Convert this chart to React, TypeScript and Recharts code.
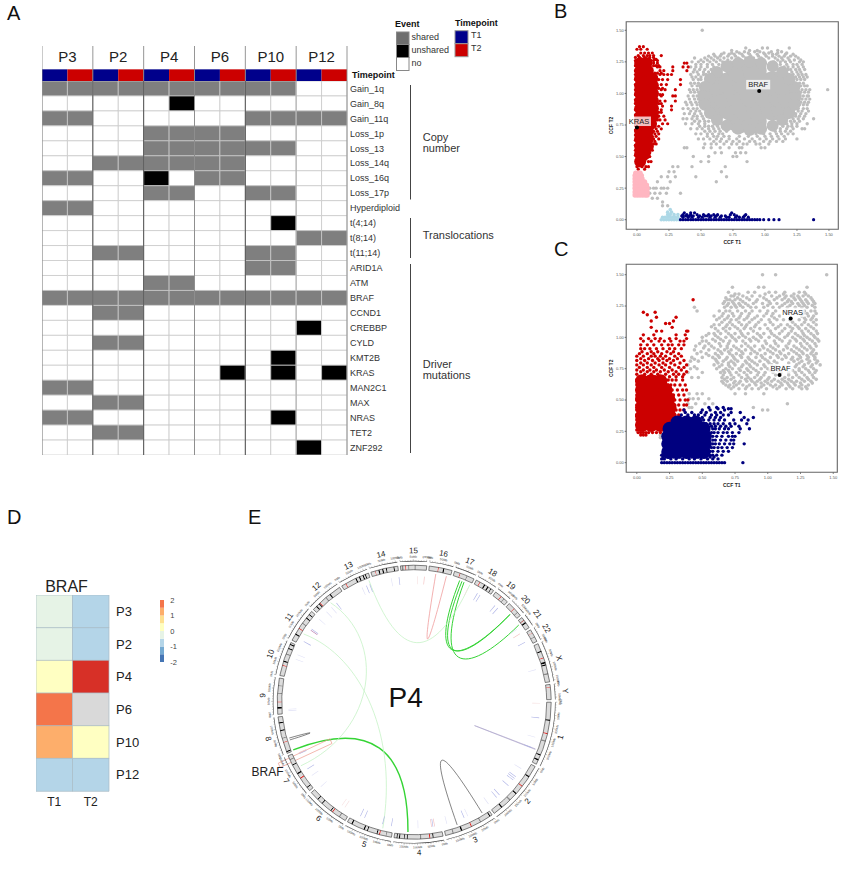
import React from 'react';
import {
  BarChart, Bar, Cell, XAxis, YAxis, ReferenceLine, ReferenceArea,
  ScatterChart, Scatter, PieChart, Pie,
} from 'recharts';

const FONT = '"Liberation Sans", Arial, sans-serif';

// ---------- panel A ----------
const patients = ['P3', 'P2', 'P4', 'P6', 'P10', 'P12'];
const eventRows = [
  'Gain_1q', 'Gain_8q', 'Gain_11q', 'Loss_1p', 'Loss_13', 'Loss_14q', 'Loss_16q', 'Loss_17p', 'Hyperdiploid',
  't(4;14)', 't(8;14)', 't(11;14)', 'ARID1A', 'ATM', 'BRAF', 'CCND1', 'CREBBP', 'CYLD', 'KMT2B', 'KRAS',
  'MAN2C1', 'MAX', 'NRAS', 'TET2', 'ZNF292',
];
// s = shared, u = unshared, n = no; two letters per patient (T1, T2)
const eventStates = [
  'ssssssssssnn', 'nnnnnunnnnnn', 'ssnnnnnnssss', 'nnnnssssnnnn', 'nnnnssssssnn', 'nnssssssnnnn', 'ssnnunssnnnn',
  'nnnnssnnssnn', 'ssnnnnnnnnnn', 'nnnnnnnnnunn', 'nnnnnnnnnnss', 'nnssnnnnssnn', 'nnnnnnnnssnn', 'nnnnssnnnnnn',
  'ssssssssssss', 'nnssnnnnnnnn', 'nnnnnnnnnnun', 'nnssnnnnnnnn', 'nnnnnnnnnunn', 'nnnnnnnununu', 'ssnnnnnnnnnn',
  'nnssnnnnnnnn', 'ssnnnnnnnunn', 'nnssnnnnnnnn', 'nnnnnnnnnnun',
];
const eventFill: any = { s: '#7f7f7f', u: '#000000', n: '#ffffff' };
const columns = [0, 1, 2, 3, 4, 5, 6, 7, 8, 9, 10, 11];
const patientEdges = [0, 2, 4, 6, 8, 10, 12];
const edgeColors = ['#777', '#444', '#444', '#888', '#444', '#aaa', '#888'];
const patientCenters = [1, 3, 5, 7, 9, 11];

const unitRow = (name: string) => {
  const row: any = { name };
  columns.forEach((c) => { row['c' + c] = 1; });
  return row;
};
const eventData = eventRows.map(unitRow);
const stripData = ['h1', 'h2', 'Timepoint'].map(unitRow);

function EventGrid() {
  return (
    <BarChart width={365} height={374} data={eventData} layout="vertical" barCategoryGap={0} margin={{ top: 0, right: 0, bottom: 0, left: 0 }}>
      <XAxis type="number" domain={[0, 12]} hide />
      <YAxis type="category" dataKey="name" orientation="right" width={60} interval={0} axisLine={false} tickLine={false} tickSize={0} tickMargin={3}
        tick={{ fontSize: 9, fill: '#333', fontFamily: FONT }} />
      {columns.map((c) => (
        <Bar key={c} dataKey={'c' + c} stackId="a" stroke="#c9c9c9" strokeWidth={0.8} isAnimationActive={false}>
          {eventStates.map((s, i) => <Cell key={i} fill={eventFill[s[c]]} />)}
        </Bar>
      ))}
      {patientEdges.map((e, i) => <ReferenceLine key={e} x={e} stroke={edgeColors[i]} strokeWidth={0.9} />)}
    </BarChart>
  );
}

function TimepointStrip() {
  return (
    <BarChart width={365} height={36} data={stripData} layout="vertical" barCategoryGap={0} margin={{ top: 0, right: 0, bottom: 0, left: 0 }}>
      <XAxis type="number" domain={[0, 12]} orientation="top" height={1} ticks={patientCenters} interval={0} axisLine={false} tickLine={false}
        tick={(p: any) => (
          <text x={p.x} y={16.5} textAnchor="middle" fontSize={15} fill="#222" fontFamily={FONT}>{patients[(p.payload.value - 1) / 2]}</text>
        )} />
      <YAxis type="category" dataKey="name" orientation="right" width={60} interval={0} axisLine={false} tickLine={false} tickSize={0}
        tick={(p: any) => (p.payload.value === 'Timepoint'
          ? <text x={p.x + 3} y={p.y + 3} fontSize={9} fontWeight="bold" fill="#111" fontFamily={FONT}>Timepoint</text>
          : <g />)} />
      {columns.map((c) => (
        <Bar key={c} dataKey={'c' + c} stackId="a" stroke="none" isAnimationActive={false}>
          <Cell fill="none" />
          <Cell fill="none" />
          <Cell fill={c % 2 === 0 ? '#00008b' : '#cc0000'} />
        </Bar>
      ))}
      {patientEdges.map((e) => <ReferenceLine key={e} x={e} stroke="#8a8a8a" strokeWidth={0.9} />)}
    </BarChart>
  );
}

// ---------- panels B and C ----------
const expand = (rows: any[]) => rows.flatMap(([y, xs]: any) => xs.map((x: number) => ({ x, y })));
const ccfTicks = [0, 0.25, 0.5, 0.75, 1, 1.25, 1.5];
const GRAY = '#bdbdbd';
const RED = '#cc0000';
const PINK = '#ffb6c1';
const NAVY = '#00007f';
const PALE_BLUE = '#add8e6';

// The solid middle of a cloud has thousands of overlapping points; it is drawn here with wider markers
const grayCoreB = expand([
  [0.78, [0.8, 0.92]],
  [0.88, [0.62, 0.73, 0.84, 0.95, 1.06, 1.14]],
  [0.98, [0.57, 0.68, 0.79, 0.9, 1.01, 1.12, 1.19]],
  [1.08, [0.62, 0.73, 0.84, 0.95, 1.06, 1.14]],
  [1.18, [0.8, 0.92]],
]);
const grayRimB = [
  { x: 1.24, y: 0.98 }, { x: 1.23, y: 1.05 }, { x: 1.19, y: 1.115 }, { x: 1.135, y: 1.17 }, { x: 1.06, y: 1.215 }, { x: 0.97, y: 1.24 },
  { x: 0.88, y: 1.25 }, { x: 0.79, y: 1.24 }, { x: 0.7, y: 1.215 }, { x: 0.625, y: 1.17 }, { x: 0.57, y: 1.115 }, { x: 0.53, y: 1.05 },
  { x: 0.52, y: 0.98 }, { x: 0.53, y: 0.91 }, { x: 0.57, y: 0.845 }, { x: 0.625, y: 0.79 }, { x: 0.7, y: 0.745 }, { x: 0.79, y: 0.72 },
  { x: 0.88, y: 0.71 }, { x: 0.97, y: 0.72 }, { x: 1.06, y: 0.745 }, { x: 1.135, y: 0.79 }, { x: 1.19, y: 0.845 }, { x: 1.23, y: 0.91 },
];
const grayScatterB = expand([
  [1.5, [0.51]],
  [1.36, [0.85, 0.98, 1.02, 1.19]],
  [1.33, [0.78, 0.84, 0.92, 0.96, 1.05, 1.13]],
  [1.31, [0.6, 0.66, 0.72, 0.76, 0.82, 0.88, 0.94, 1.0, 1.06, 1.09, 1.16, 1.22]],
  [1.28, [0.45, 0.53, 0.58, 0.63, 0.68, 0.74, 0.79, 0.85, 0.91, 0.97, 1.03, 1.08, 1.13, 1.18, 1.26]],
  [1.25, [0.43, 0.48, 0.52, 0.57, 0.62, 0.67, 0.73, 1.07, 1.12, 1.16, 1.2, 1.27, 1.3]],
  [1.21, [0.42, 0.46, 0.5, 0.55, 0.6, 1.15, 1.18, 1.22, 1.26, 1.3]],
  [1.17, [0.44, 0.47, 0.52, 0.56, 1.21, 1.25, 1.28]],
  [1.13, [0.43, 0.46, 0.5, 1.24, 1.27, 1.3, 1.33]],
  [1.08, [0.42, 0.45, 0.48, 1.27, 1.3]],
  [1.03, [0.41, 0.44, 0.47, 1.29, 1.32, 1.35, 1.49]],
  [0.98, [0.4, 0.44, 0.47, 1.3, 1.33, 1.34]],
  [0.93, [0.38, 0.42, 0.46, 0.49, 1.28, 1.31, 1.34]],
  [0.88, [0.36, 0.4, 0.44, 0.47, 1.26, 1.3, 1.33]],
  [0.84, [0.37, 0.41, 0.45, 0.5, 1.24, 1.28, 1.32]],
  [0.8, [0.36, 0.39, 0.43, 0.47, 0.52, 1.22, 1.26, 1.3, 1.38]],
  [0.76, [0.38, 0.43, 0.48, 0.53, 1.17, 1.21, 1.25, 1.33]],
  [0.72, [0.42, 0.47, 0.51, 0.56, 0.6, 0.64, 1.06, 1.12, 1.17, 1.22, 1.29, 1.31]],
  [0.68, [0.46, 0.5, 0.55, 0.59, 0.64, 0.67, 0.93, 0.99, 1.04, 1.09, 1.13, 1.18, 1.22]],
  [0.64, [0.48, 0.52, 0.57, 0.62, 0.66, 0.72, 0.78, 0.84, 0.9, 0.96, 1.01, 1.06, 1.11, 1.16, 1.25]],
  [0.6, [0.53, 0.58, 0.62, 0.68, 0.74, 0.78, 0.83, 0.86, 0.93, 0.96, 1.03]],
  [0.57, [0.37, 0.39, 0.52, 0.58, 0.65, 0.72, 0.8, 0.82, 0.97, 1.0]],
  [0.53, [0.61, 0.66, 0.77, 0.81, 0.85]],
  [0.5, [0.44, 0.56, 0.75, 0.78]],
  [0.46, [0.5, 0.56, 0.86]],
  [0.42, [0.28, 0.32, 0.43, 0.69]],
  [0.38, [0.25, 0.29, 0.66]],
  [0.34, [0.19, 0.24, 0.3, 0.46, 0.7]],
  [0.3, [0.16, 0.26, 0.62]],
  [0.25, [0.1, 0.13, 0.15, 0.19, 0.21, 0.24]],
  [0.21, [0.1, 0.14, 0.18, 0.23, 0.34]],
  [0.17, [0.12, 0.16]],
  [0.14, [0.2]],
  [0.11, [0.2, 0.24]],
]);
const grayFringeB = expand([
  [1.34, [0.74, 0.88, 0.94, 1.1]],
  [1.32, [0.68, 0.74, 0.8, 0.87, 0.99, 1.03, 1.1, 1.17]],
  [1.295, [0.56, 0.61, 0.65, 0.71, 0.77, 0.83, 0.89, 0.95, 1.01, 1.06, 1.11, 1.15, 1.2, 1.24]],
  [1.265, [0.5, 0.55, 0.6, 0.65, 0.71, 1.1, 1.14, 1.19, 1.23, 1.28]],
  [1.23, [0.46, 0.5, 0.55, 0.59, 0.64, 1.12, 1.17, 1.22, 1.25, 1.29]],
  [1.19, [0.45, 0.49, 0.53, 0.58, 1.18, 1.2, 1.24, 1.27, 1.31]],
  [1.15, [0.42, 0.48, 0.52, 0.54, 1.22, 1.26, 1.29, 1.32]],
  [1.11, [0.44, 0.48, 0.5, 1.25, 1.28, 1.31]],
  [1.06, [0.43, 0.47, 0.49, 1.28, 1.31, 1.33]],
  [1.01, [0.42, 0.45, 0.48, 1.28, 1.31, 1.34]],
  [0.955, [0.41, 0.45, 0.48, 1.29, 1.32, 1.35]],
  [0.91, [0.39, 0.43, 0.47, 1.27, 1.3, 1.33]],
  [0.86, [0.42, 0.46, 0.49, 1.26, 1.29, 1.34]],
  [0.82, [0.44, 0.47, 0.51, 1.24, 1.27, 1.31]],
  [0.78, [0.45, 0.49, 0.53, 0.56, 1.2, 1.23, 1.27]],
  [0.74, [0.49, 0.53, 0.56, 0.59, 0.63, 1.14, 1.18, 1.21, 1.25]],
  [0.7, [0.53, 0.57, 0.61, 0.65, 0.7, 0.76, 1.08, 1.12, 1.16, 1.2]],
  [0.66, [0.55, 0.6, 0.63, 0.68, 0.72, 0.8, 0.87, 0.94, 1.0, 1.05, 1.1, 1.15]],
  [0.62, [0.6, 0.65, 0.7, 0.75, 0.8, 0.88, 0.92, 0.99, 1.04, 1.09, 1.14]],
]);
const redCoreB = expand([
  [0.46, [0.025]], [0.52, [0.025, 0.06]], [0.58, [0.025, 0.085]], [0.64, [0.025, 0.085]], [0.7, [0.025, 0.085]],
  [0.76, [0.025, 0.085, 0.11]], [0.82, [0.025, 0.085, 0.125]], [0.88, [0.025, 0.085, 0.125]], [0.94, [0.025, 0.085, 0.125]],
  [1.0, [0.025, 0.085, 0.125]], [1.06, [0.025, 0.085, 0.125]], [1.12, [0.025, 0.085, 0.12]], [1.18, [0.025, 0.085]], [1.24, [0.025, 0.075]],
]);
const redScatterB = expand([
  [1.37, [0.02, 0.05]], [1.35, [0.0, 0.03, 0.08]], [1.32, [0.03, 0.06, 0.09, 0.12]], [1.3, [0.01, 0.05, 0.08, 0.1, 0.13, 0.19]],
  [1.285, [-0.012, 0.02, 0.06, 0.1, 0.13]], [1.27, [0.1, 0.14, 0.15]], [1.26, [-0.012, 0.11, 0.13, 0.16]], [1.24, [0.13, 0.16, 0.37, 0.39]],
  [1.22, [-0.012, 0.13, 0.15, 0.17]], [1.21, [0.16, 0.18, 0.28, 0.36, 0.4]], [1.18, [-0.012, 0.18, 0.21, 0.28, 0.39]], [1.16, [0.14, 0.16, 0.19]],
  [1.15, [-0.012, 0.18, 0.21, 0.24, 0.27]], [1.11, [-0.012, 0.17, 0.2, 0.24, 0.34]], [1.07, [-0.012, 0.19, 0.23, 0.34]], [1.04, [0.17, 0.2]],
  [1.03, [-0.012, 0.19, 0.22, 0.3]], [0.99, [-0.012, 0.18, 0.2]], [0.98, [0.19, 0.28, 0.3]], [0.95, [-0.012]], [0.94, [0.18, 0.22, 0.3]],
  [0.92, [-0.012, 0.17, 0.19]], [0.9, [0.2, 0.27]], [0.87, [-0.012, 0.19, 0.27]], [0.85, [0.17, 0.19]], [0.83, [-0.012]], [0.82, [0.17, 0.21]],
  [0.79, [-0.012, 0.16, 0.18, 0.22]], [0.76, [0.2, 0.24]], [0.75, [-0.012]], [0.74, [0.14, 0.17]], [0.72, [0.15, 0.19]], [0.71, [-0.012]],
  [0.7, [0.13, 0.16]], [0.68, [0.14, 0.17]], [0.67, [-0.012]], [0.66, [0.12, 0.15]], [0.64, [0.13, 0.17]], [0.63, [-0.012]], [0.62, [0.11, 0.14]],
  [0.6, [0.1, 0.13, 0.15]], [0.59, [-0.012]], [0.57, [0.09, 0.11]], [0.55, [-0.012, 0.1, 0.12]], [0.53, [0.08, 0.1]], [0.51, [-0.012]], [0.5, [0.07, 0.1]],
  [0.48, [0.05, 0.07]], [0.46, [0.05, 0.09, 0.11]], [0.42, [0.0, 0.04, 0.07, 0.09]], [0.4, [0.01, 0.06]],
]);
const pinkB = expand([
  [0.195, [-0.015, 0.005, 0.025, 0.045, 0.065, 0.08]], [0.22, [-0.015, 0.005, 0.025, 0.045, 0.065, 0.08]], [0.25, [-0.015, 0.005, 0.025, 0.045, 0.065, 0.08]],
  [0.275, [-0.015, 0.005, 0.025, 0.045, 0.06, 0.075]], [0.3, [-0.015, 0.005, 0.025, 0.045, 0.06]], [0.325, [-0.015, 0.005, 0.025, 0.04]],
  [0.35, [-0.015, 0.005, 0.025, 0.035]], [0.37, [-0.01, 0.01, 0.025]],
]);
const navyB = expand([
  [0, [0.34, 0.36, 0.38, 0.4, 0.42, 0.44, 0.46, 0.48, 0.5, 0.52, 0.54, 0.56, 0.58, 0.6, 0.62, 0.64, 0.66, 0.68, 0.7, 0.72, 0.74, 0.76, 0.78, 0.8, 0.82, 0.84, 0.86, 0.88, 0.9, 0.92, 0.94, 0.96, 0.99, 1.03, 1.07, 1.11, 1.38]],
  [0.02, [0.36, 0.4, 0.43, 0.48, 0.51, 0.57, 0.61, 0.65, 0.7, 0.72, 0.77, 0.8, 0.83, 0.87]],
  [0.03, [0.35, 0.38, 0.41, 0.44, 0.49, 0.53, 0.55, 0.58, 0.62, 0.66, 0.69, 0.78, 0.84]],
  [0.04, [0.36, 0.39, 0.42, 0.47, 0.52, 0.56, 0.6, 0.63, 0.73, 0.76, 0.85]],
  [0.055, [0.37, 0.42, 0.45, 0.74]],
]);
const paleBlueB = expand([
  [0, [0.19, 0.21, 0.23, 0.25, 0.27, 0.29, 0.31, 0.33]],
  [0.02, [0.2, 0.22, 0.24, 0.26, 0.28, 0.3, 0.32]],
  [0.04, [0.24, 0.26, 0.29, 0.32]],
  [0.06, [0.24, 0.27]],
  [0.08, [0.26]],
]);
const driversB = [{ x: 0.0, y: 0.73, name: 'KRAS', dx: 2 }, { x: 0.955, y: 1.02, name: 'BRAF', dx: -1 }];

const grayScatterC = expand([
  [1.5, [0.96, 1.06, 1.45]],
  [1.4, [0.73, 0.93, 0.97, 1.3]],
  [1.36, [0.7, 0.85, 0.9, 1.01, 1.06, 1.13, 1.24, 1.28]],
  [1.33, [0.72, 0.74, 0.81, 0.88, 0.94, 1.03, 1.09, 1.14, 1.18, 1.23, 1.27, 1.31]],
  [1.3, [0.69, 0.71, 0.75, 0.79, 0.86, 0.92, 0.99, 1.05, 1.11, 1.16, 1.21, 1.25, 1.29, 1.34]],
  [1.27, [0.66, 0.7, 0.74, 0.78, 0.83, 0.89, 0.96, 1.02, 1.07, 1.13, 1.19, 1.23, 1.27, 1.31, 1.36]],
  [1.24, [0.44, 0.67, 0.72, 0.76, 0.81, 0.87, 0.91, 0.97, 1.04, 1.09, 1.15, 1.21, 1.26, 1.3, 1.36]],
  [1.21, [0.46, 0.63, 0.68, 0.71, 0.77, 0.83, 0.88, 0.94, 1.0, 1.06, 1.14, 1.28, 1.33, 1.36]],
  [1.17, [0.59, 0.65, 0.7, 0.74, 0.79, 0.85, 0.92, 0.97, 1.03, 1.09, 1.26, 1.31, 1.35]],
  [1.14, [0.61, 0.67, 0.72, 0.76, 0.82, 0.88, 0.95, 1.01, 1.07, 1.12, 1.17, 1.24, 1.29, 1.33, 1.37]],
  [1.1, [0.59, 0.63, 0.69, 0.73, 0.8, 0.84, 0.91, 0.98, 1.04, 1.1, 1.15, 1.21, 1.26, 1.31, 1.37]],
  [1.07, [0.6, 0.66, 0.71, 0.77, 0.82, 0.87, 0.94, 1.0, 1.06, 1.13, 1.19, 1.24, 1.29, 1.35]],
  [1.03, [0.55, 0.59, 0.64, 0.7, 0.75, 0.8, 0.85, 0.92, 0.97, 1.03, 1.09, 1.16, 1.21, 1.27, 1.33, 1.38]],
  [1.0, [0.5, 0.62, 0.68, 0.73, 0.78, 0.83, 0.89, 0.95, 1.01, 1.07, 1.13, 1.19, 1.25, 1.3, 1.36]],
  [0.97, [0.5, 0.53, 0.6, 0.66, 0.71, 0.76, 0.81, 0.87, 0.93, 0.98, 1.05, 1.11, 1.17, 1.22, 1.28, 1.34, 1.39]],
  [0.93, [0.45, 0.52, 0.57, 0.64, 0.69, 0.74, 0.8, 0.85, 0.9, 0.96, 1.02, 1.08, 1.14, 1.2, 1.26, 1.32, 1.37]],
  [0.9, [0.44, 0.55, 0.62, 0.67, 0.72, 0.78, 0.83, 0.88, 0.94, 1.0, 1.06, 1.12, 1.18, 1.24, 1.3, 1.35]],
  [0.87, [0.46, 0.53, 0.6, 0.65, 0.71, 0.76, 0.81, 0.87, 0.92, 0.98, 1.04, 1.1, 1.16, 1.22, 1.27, 1.33, 1.37]],
  [0.84, [0.42, 0.5, 0.58, 0.63, 0.69, 0.74, 0.8, 0.85, 0.91, 0.96, 1.02, 1.08, 1.14, 1.19, 1.25, 1.31, 1.36]],
  [0.81, [0.41, 0.47, 0.61, 0.66, 0.72, 0.77, 0.83, 0.88, 0.94, 1.0, 1.05, 1.2, 1.26, 1.32, 1.38]],
  [0.78, [0.39, 0.59, 0.65, 0.7, 0.75, 0.81, 0.86, 0.92, 0.97, 1.03, 1.22, 1.28, 1.34, 1.4]],
  [0.75, [0.41, 0.46, 0.61, 0.68, 0.73, 0.78, 0.84, 0.89, 0.95, 1.0, 1.24, 1.29, 1.35]],
  [0.72, [0.39, 0.5, 0.64, 0.67, 0.71, 0.76, 0.82, 0.87, 0.93, 0.98, 1.04, 1.1, 1.16, 1.21, 1.26, 1.32, 1.36]],
  [0.68, [0.42, 0.47, 0.65, 0.69, 0.74, 0.8, 0.85, 0.9, 0.95, 1.01, 1.13, 1.19, 1.24, 1.3, 1.35]],
  [0.65, [0.65, 0.69, 0.75, 0.79, 0.84, 0.88, 0.92, 0.98, 1.03, 1.08, 1.13, 1.18, 1.22, 1.28, 1.33]],
  [0.62, [0.68, 0.71, 0.76, 0.81, 0.86, 0.91, 0.97, 1.02, 1.06, 1.11, 1.16, 1.21, 1.26, 1.31]],
  [0.59, [0.72, 0.78, 0.83, 0.88, 0.93, 0.99, 1.07, 1.14, 1.19, 1.26, 1.3]],
  [0.55, [0.4, 0.46, 0.5, 0.75, 0.83, 0.97]],
  [0.51, [0.4, 0.43, 0.47, 0.55]],
  [0.47, [0.39, 0.45, 0.52, 0.58, 1.15]],
  [0.44, [0.4, 0.42, 0.89]],
  [0.42, [0.96, 1.0]],
  [0.22, [0.18, 0.19]],
  [0.2, [0.18]],
]);
const grayExtraC = expand([
  [1.345, [0.75, 0.78, 0.98, 1.12, 1.2, 1.29]],
  [1.315, [0.68, 0.77, 0.84, 0.97, 1.07, 1.13, 1.2, 1.24, 1.33]],
  [1.285, [0.67, 0.73, 0.81, 0.91, 1.01, 1.15, 1.18, 1.26, 1.3, 1.35]],
  [1.255, [0.69, 0.75, 0.79, 0.85, 1.0, 1.11, 1.17, 1.24, 1.28, 1.34]],
  [1.19, [0.66, 0.73, 0.8, 0.86, 0.99, 1.04, 1.27, 1.3, 1.37]],
  [1.155, [0.63, 0.69, 0.78, 0.84, 0.9, 1.05, 1.28, 1.34]],
  [1.12, [0.65, 0.71, 0.78, 0.86, 0.93, 1.02, 1.19, 1.28, 1.35]],
  [1.085, [0.57, 0.68, 0.75, 0.83, 0.9, 1.08, 1.17, 1.23, 1.33]],
  [1.05, [0.62, 0.68, 0.79, 0.89, 1.02, 1.11, 1.18, 1.26, 1.31, 1.37]],
  [1.015, [0.53, 0.6, 0.72, 0.81, 0.94, 1.05, 1.15, 1.23, 1.28, 1.35]],
  [0.985, [0.58, 0.64, 0.75, 0.86, 0.91, 1.09, 1.21, 1.27, 1.32, 1.38]],
  [0.95, [0.48, 0.55, 0.63, 0.7, 0.83, 0.99, 1.06, 1.16, 1.25, 1.3, 1.36]],
  [0.915, [0.51, 0.59, 0.69, 0.76, 0.87, 0.97, 1.04, 1.15, 1.22, 1.28, 1.33]],
  [0.885, [0.49, 0.64, 0.7, 0.8, 0.9, 1.02, 1.09, 1.2, 1.26, 1.34]],
  [0.855, [0.55, 0.62, 0.73, 0.79, 0.95, 1.07, 1.13, 1.24, 1.3, 1.35]],
  [0.825, [0.44, 0.6, 0.68, 0.75, 0.86, 0.98, 1.11, 1.18, 1.23, 1.3, 1.36]],
  [0.795, [0.62, 0.7, 0.74, 0.84, 0.9, 1.01, 1.07, 1.16, 1.24, 1.31, 1.37]],
  [0.765, [0.44, 0.63, 0.71, 0.8, 0.87, 0.98, 1.06, 1.12, 1.21, 1.27, 1.33]],
  [0.735, [0.66, 0.7, 0.79, 0.85, 0.91, 1.02, 1.08, 1.19, 1.24, 1.31, 1.37]],
  [0.7, [0.66, 0.72, 0.78, 0.84, 0.92, 0.97, 1.06, 1.16, 1.22, 1.28, 1.34]],
  [0.665, [0.67, 0.72, 0.83, 0.87, 0.94, 1.0, 1.05, 1.11, 1.16, 1.26, 1.31, 1.37]],
  [0.635, [0.66, 0.74, 0.78, 0.9, 0.95, 1.0, 1.1, 1.15, 1.2, 1.25, 1.34]],
  [0.605, [0.7, 0.74, 0.84, 0.95, 1.04, 1.09, 1.17, 1.24, 1.29]],
]);
const redCoreC = expand([
  [0.3, [0.04, 0.11, 0.18, 0.23]],
  [0.37, [0.04, 0.11, 0.18, 0.25]],
  [0.44, [0.04, 0.11, 0.18, 0.25]],
  [0.51, [0.04, 0.11, 0.18, 0.24]],
  [0.58, [0.04, 0.11, 0.18, 0.22]],
  [0.65, [0.04, 0.11, 0.18]],
]);
const redScatterC = expand([
  [1.3, [0.43]], [1.2, [0.05, 0.14]], [1.18, [0.08]], [1.16, [0.15, 0.3]], [1.13, [0.11, 0.28]], [1.11, [0.22, 0.25]],
  [1.08, [0.11, 0.27]], [1.05, [0.15, 0.19, 0.38, 0.39]], [1.02, [0.05, 0.13, 0.3, 0.37]], [0.99, [0.03, 0.09, 0.14, 0.18, 0.25, 0.3, 0.38]],
  [0.97, [0.05, 0.11, 0.17, 0.21, 0.26, 0.33, 0.36]], [0.94, [0.03, 0.08, 0.13, 0.19, 0.24, 0.27, 0.32, 0.36]],
  [0.91, [0.03, 0.06, 0.1, 0.15, 0.2, 0.25, 0.29, 0.34]], [0.885, [0.04, 0.11, 0.16, 0.23, 0.28]], [0.87, [0.02, 0.08, 0.13, 0.19, 0.26, 0.32]],
  [0.85, [0.0, 0.05, 0.11, 0.14, 0.18, 0.22, 0.29, 0.34]], [0.83, [0.03, 0.09, 0.16, 0.2, 0.25, 0.31]], [0.815, [0.0, 0.06, 0.12, 0.17, 0.23, 0.28, 0.36]],
  [0.795, [0.03, 0.08, 0.14, 0.2, 0.26, 0.33]], [0.78, [0.0, 0.05, 0.11, 0.17, 0.22, 0.29, 0.38]], [0.76, [0.02, 0.08, 0.13, 0.19, 0.25, 0.32, 0.36]],
  [0.74, [0.0, 0.05, 0.1, 0.15, 0.21, 0.27, 0.34]], [0.725, [0.03, 0.08, 0.13, 0.18, 0.24, 0.3, 0.38]], [0.705, [0.0, 0.06, 0.11, 0.16, 0.22, 0.28, 0.32, 0.36]],
  [0.685, [0.02, 0.09, 0.14, 0.2, 0.25, 0.3, 0.35]], [0.66, [0.0, 0.24, 0.27, 0.3, 0.35]], [0.62, [0.0, 0.24, 0.26, 0.29, 0.33, 0.37]],
  [0.58, [0.0, 0.27, 0.31, 0.35, 0.38]], [0.54, [0.0, 0.28, 0.32, 0.36]], [0.5, [0.0, 0.29, 0.33, 0.37, 0.39]], [0.46, [0.0, 0.29, 0.32, 0.36, 0.38]],
  [0.42, [0.0, 0.3, 0.33, 0.36]], [0.38, [0.0, 0.29, 0.32]], [0.34, [0.0, 0.28, 0.31]], [0.3, [0.0, 0.28]], [0.26, [0.0, 0.02]],
  [0.24, [0.01, 0.03, 0.05, 0.07, 0.09, 0.12, 0.15, 0.18]], [0.22, [0.03, 0.05, 0.07]],
]);
const navyCoreC = expand([
  [0.085, [0.24, 0.31, 0.38, 0.45, 0.51]],
  [0.15, [0.24, 0.31, 0.38, 0.45, 0.52]],
  [0.21, [0.24, 0.31, 0.38, 0.45, 0.52]],
  [0.27, [0.25, 0.31, 0.38, 0.45, 0.51]],
  [0.32, [0.31, 0.38, 0.45]],
]);
const navyScatterC = expand([
  [0.44, [0.55, 0.61, 0.66]], [0.43, [0.62, 0.7, 0.72]], [0.42, [0.36, 0.5, 0.56, 0.67]], [0.4, [0.37, 0.42, 0.49, 0.53, 0.6, 0.64, 0.72, 0.79]],
  [0.38, [0.34, 0.39, 0.44, 0.47, 0.52, 0.57, 0.61, 0.66, 0.7]], [0.36, [0.33, 0.5, 0.56, 0.6, 0.64, 0.82, 0.89]], [0.34, [0.51, 0.55, 0.59, 0.63, 0.67, 0.74, 0.8, 0.85]],
  [0.31, [0.53, 0.56, 0.59, 0.62, 0.66, 0.71, 0.75, 0.84]], [0.29, [0.57, 0.6, 0.64, 0.68, 0.72, 0.78]], [0.27, [0.58, 0.6, 0.63, 0.67, 0.7, 0.79, 0.86]],
  [0.24, [0.57, 0.59, 0.62, 0.66, 0.69, 0.73, 0.78]], [0.21, [0.58, 0.61, 0.65, 0.7, 0.73, 0.75]], [0.18, [0.58, 0.6, 0.64, 0.68, 0.72, 0.74]],
  [0.15, [0.58, 0.6, 0.63, 0.67, 0.71, 0.74, 0.82]], [0.12, [0.57, 0.59, 0.62, 0.65, 0.69, 0.73]], [0.09, [0.56, 0.58, 0.62, 0.66, 0.7]], [0.06, [0.19, 0.56, 0.58, 0.61, 0.65]],
  [0.045, [0.2, 0.24, 0.28, 0.33, 0.38, 0.42, 0.47, 0.52, 0.56, 0.59]],
  [0.03, [0.19, 0.21, 0.26, 0.3, 0.35, 0.4, 0.44, 0.49, 0.54, 0.58, 0.62]],
  [0, [0.19, 0.21, 0.23, 0.25, 0.27, 0.29, 0.31, 0.33, 0.35, 0.37, 0.39, 0.41, 0.43, 0.45, 0.47, 0.49, 0.51, 0.53, 0.55, 0.57, 0.59, 0.61, 0.63, 0.65, 0.67, 0.81]],
]);
const driversC = [{ x: 1.175, y: 1.15, name: 'NRAS', dx: 2 }, { x: 1.09, y: 0.7, name: 'BRAF', dx: 1 }];

const dot = (r: number, fill: string) => (p: any) => <circle cx={p.cx} cy={p.cy} r={r} fill={fill} />;

const driverDot = (p: any) => {
  const name = p.name ?? p.payload?.name;
  const dx = p.dx ?? p.payload?.dx ?? 0;
  return (
    <g>
      <rect x={p.cx + dx - 12} y={p.cy - 11} width={24} height={9.5} fill="#fff" fillOpacity={0.75} />
      <text x={p.cx + dx} y={p.cy - 4} textAnchor="middle" fontSize={7.5} fill="#222" fontFamily={FONT}>{name}</text>
      <circle cx={p.cx} cy={p.cy} r={2} fill="#000" />
    </g>
  );
};

function CcfPlot({ margin, xDomain, yDomain, series, drivers }: any) {
  return (
    <ScatterChart width={250} height={240} margin={margin}>
      <XAxis type="number" dataKey="x" domain={xDomain} allowDataOverflow ticks={ccfTicks} interval={0} height={20.7} axisLine={false}
        tickSize={1.5} tickMargin={2} tickFormatter={(v: number) => v.toFixed(2)} tick={{ fontSize: 4, fill: '#555', fontFamily: FONT }}
        label={{ value: 'CCF T1', position: 'insideBottom', offset: 6, fontSize: 5, fontWeight: 'bold', fill: '#222', fontFamily: FONT }} />
      <YAxis type="number" dataKey="y" domain={yDomain} allowDataOverflow ticks={ccfTicks} interval={0} width={26.2} axisLine={false}
        tickSize={1.5} tickMargin={1} tickFormatter={(v: number) => v.toFixed(2)} tick={{ fontSize: 4, fill: '#555', fontFamily: FONT }}
        label={{ value: 'CCF T2', angle: -90, position: 'insideLeft', offset: 11, fontSize: 5, fontWeight: 'bold', fill: '#222', fontFamily: FONT, style: { textAnchor: 'middle' } }} />
      <ReferenceArea x1={xDomain[0]} x2={xDomain[1]} y1={yDomain[0]} y2={yDomain[1]} fill="none" stroke="#666" strokeWidth={1.1} ifOverflow="visible" />
      {series.map((s: any, i: number) => (
        <Scatter key={i} data={s.data} shape={dot(s.r, s.fill)} isAnimationActive={false} />
      ))}
      <Scatter data={drivers} shape={driverDot} isAnimationActive={false} />
    </ScatterChart>
  );
}

const seriesB = [
  { data: grayCoreB, r: 12, fill: GRAY }, { data: grayRimB, r: 6, fill: GRAY }, { data: grayFringeB, r: 1.7, fill: GRAY }, { data: grayScatterB, r: 1.7, fill: GRAY },
  { data: redCoreB, r: 6, fill: RED }, { data: redScatterB, r: 1.6, fill: RED },
  { data: pinkB, r: 2.6, fill: PINK },
  { data: paleBlueB, r: 1.8, fill: PALE_BLUE }, { data: navyB, r: 1.6, fill: NAVY },
];
const seriesC = [
  { data: grayScatterC, r: 1.8, fill: '#c0c0c0' }, { data: grayExtraC, r: 1.8, fill: '#c0c0c0' },
  { data: redCoreC, r: 7, fill: RED }, { data: redScatterC, r: 1.7, fill: RED },
  { data: navyCoreC, r: 7, fill: NAVY }, { data: navyScatterC, r: 1.7, fill: NAVY },
];

// ---------- panel D ----------
const brafPatients = ['P3', 'P2', 'P4', 'P6', 'P10', 'P12'];
const brafT1 = [-0.5, -0.5, 0, 1.5, 1, -1];
const brafT2 = [-1, -1, 2, null, 0, -1];
const heatValues = [-1, -0.5, 0, 1, 1.5, 2];
const heatColors = ['#b4d5e8', '#e6f3e6', '#ffffc2', '#fdae6b', '#f4754a', '#d73027'];
const heatNA = '#d9d9d9';
const legendColors = ['#4575b4', '#74a9d1', '#b4d5e8', '#e6f3e6', '#ffffbf', '#fee090', '#fdae6b', '#f4754a'];
const legendLabels = ['-2', '-1', '0', '1', '2'];
const heatFill = (v: number | null) => (v === null ? heatNA : heatColors[heatValues.indexOf(v)]);
const brafData = brafPatients.map((name) => ({ name, t1: 1, t2: 1 }));
const legendRow: any = { name: 'scale' };
legendColors.forEach((c, i) => { legendRow['s' + i] = 1; });

function BrafHeat() {
  return (
    <BarChart width={113} height={216} data={brafData} layout="vertical" barCategoryGap={0} margin={{ top: 0, right: 0, bottom: 0, left: 0 }}>
      <XAxis type="number" domain={[0, 2]} ticks={[0.5, 1.5]} interval={0} height={20} axisLine={false} tickLine={false} tickMargin={0}
        tickFormatter={(v: number) => (v < 1 ? 'T1' : 'T2')} tick={{ fontSize: 12, fill: '#222', fontFamily: FONT }} />
      <YAxis type="category" dataKey="name" orientation="right" width={40} interval={0} axisLine={false} tickLine={false} tickMargin={1}
        tick={{ fontSize: 13, fill: '#222', fontFamily: FONT }} />
      <Bar dataKey="t1" stackId="a" stroke="#a9bcc6" strokeWidth={0.7} isAnimationActive={false}>
        {brafT1.map((v, i) => <Cell key={i} fill={heatFill(v)} />)}
      </Bar>
      <Bar dataKey="t2" stackId="a" stroke="#a9bcc6" strokeWidth={0.7} isAnimationActive={false}>
        {brafT2.map((v, i) => <Cell key={i} fill={heatFill(v)} />)}
      </Bar>
    </BarChart>
  );
}

function HeatLegend() {
  return (
    <BarChart width={24} height={70} data={[legendRow]} barCategoryGap={0} margin={{ top: 4, right: 0, bottom: 4, left: 0 }}>
      <XAxis dataKey="name" hide />
      <YAxis type="number" domain={[0, 8]} ticks={[0, 2, 4, 6, 8]} interval={0} orientation="right" width={19.7} axisLine={false} tickLine={false} tickMargin={0}
        tickFormatter={(v: number) => legendLabels[v / 2]} tick={{ fontSize: 7.5, fill: '#444', fontFamily: FONT }} />
      {legendColors.map((c, i) => (
        <Bar key={i} dataKey={'s' + i} stackId="a" fill={c} stroke="none" isAnimationActive={false} />
      ))}
    </BarChart>
  );
}

// ---------- panel E ----------
const chromNames = ['1', '2', '3', '4', '5', '6', '7', '8', '9', '10', '11', '12', '13', '14', '15', '16', '17', '18', '19', '20', '21', '22', 'X', 'Y'];
const chromLengths = [249, 243, 198, 191, 181, 171, 159, 146, 141, 135, 135, 133, 115, 107, 102, 90, 81, 78, 59, 63, 48, 51, 155, 59];
// dark and centromere bands per chromosome: start Mb, end Mb, kind
const chromBands: any[] = [
  [[68, 73, 'k'], [121, 125, 'r'], [150, 156, 'g'], [208, 213, 'k'], [228, 234, 'k']],
  [[44, 49, 'k'], [90, 94, 'r'], [126, 131, 'k'], [160, 166, 'g'], [203, 208, 'k']],
  [[8, 12, 'k'], [50, 55, 'g'], [90, 94, 'r'], [130, 136, 'k'], [165, 170, 'g']],
  [[37, 41, 'k'], [50, 54, 'r'], [85, 90, 'g'], [138, 142, 'k'], [150, 153, 'k'], [168, 172, 'k'], [178, 182, 'k']],
  [[20, 24, 'g'], [46, 50, 'r'], [56, 60, 'k'], [95, 99, 'k'], [108, 113, 'k'], [160, 165, 'k']],
  [[25, 30, 'g'], [58, 62, 'r'], [66, 70, 'k'], [110, 114, 'k'], [133, 137, 'k']],
  [[14, 18, 'k'], [58, 62, 'r'], [78, 84, 'k'], [118, 122, 'k'], [140, 145, 'g']],
  [[5, 10, 'k'], [44, 47, 'r'], [60, 64, 'g'], [90, 95, 'k'], [120, 125, 'k']],
  [[22, 28, 'k'], [47, 50, 'r'], [80, 84, 'g'], [110, 114, 'g']],
  [[40, 43, 'r'], [55, 60, 'k'], [85, 90, 'g'], [108, 113, 'k'], [125, 130, 'k']],
  [[25, 30, 'k'], [52, 55, 'r'], [75, 80, 'g'], [100, 105, 'k'], [118, 122, 'k']],
  [[15, 20, 'k'], [30, 34, 'k'], [35, 38, 'r'], [65, 70, 'g'], [85, 90, 'k']],
  [[17, 20, 'r'], [60, 65, 'k'], [75, 80, 'k'], [90, 95, 'k'], [100, 104, 'k']],
  [[17, 19, 'r'], [30, 35, 'k'], [45, 50, 'k'], [60, 64, 'k'], [90, 94, 'k']],
  [[5, 12, 'g'], [19, 22, 'r'], [30, 35, 'g'], [55, 60, 'g']],
  [[35, 38, 'r'], [55, 60, 'k']],
  [[22, 25, 'r'], [50, 54, 'g']],
  [[15, 18, 'r'], [35, 40, 'k'], [50, 55, 'k'], [65, 68, 'k']],
  [[26, 29, 'r'], [40, 44, 'g']],
  [[27, 29, 'r'], [45, 49, 'g']],
  [[12, 13, 'k'], [13, 15, 'r'], [22, 28, 'k']],
  [[14, 16, 'r'], [30, 34, 'g']],
  [[30, 35, 'k'], [58, 61, 'r'], [75, 82, 'k'], [85, 90, 'k'], [120, 126, 'g']],
  [[11, 13, 'r']],
];
const bandFill: any = { k: '#000000', r: '#e0201c', g: '#8a8a8a' };
const BASE_BAND = '#dcdcdc';
const GAP = 10;
// paired short tiles inside the ring: chromosome, Mb, colour key
const tiles: any[] = [
  ['1', 3, 'p'], ['1', 65, 'b'], ['1', 148, 'l'], ['1', 194, 'b'], ['2', 34, 'l'], ['2', 75, 'b'], ['2', 84, 'b'], ['2', 93, 'b'], ['2', 124, 'b'],
  ['2', 178, 'b'], ['2', 194, 'b'], ['2', 238, 'l'], ['3', 86, 'l'], ['3', 103, 'b'], ['3', 180, 'l'], ['4', 25, 'r'], ['4', 32, 'b'], ['4', 38, 'r'],
  ['4', 95, 'l'], ['5', 7, 'b'], ['5', 45, 'b'], ['5', 125, 'b'], ['5', 144, 'b'], ['6', 28, 'p'], ['6', 43, 'p'], ['6', 162, 'l'], ['7', 41, 'l'],
  ['7', 75, 'b'], ['7', 147, 'b'], ['7', 152, 'r'], ['9', 10, 'l'], ['9', 16, 'l'], ['10', 79, 'l'], ['10', 99, 'l'], ['11', 16, 'b'], ['11', 72, 'u'],
  ['11', 78, 'b'], ['11', 130, 'l'], ['12', 29, 'l'], ['12', 57, 'l'], ['12', 85, 'b'], ['13', 68, 'l'], ['13', 88, 'b'], ['13', 103, 'b'], ['14', 72, 'l'],
  ['14', 105, 'b'], ['15', 67, 'p'], ['15', 95, 'r'], ['17', 73, 'p'], ['18', 28, 'b'], ['18', 41, 'b'], ['19', 30, 'b'], ['19', 46, 'b'], ['21', 24, 'l'],
  ['21', 47, 'r'], ['22', 31, 'b'], ['X', 94, 'l'],
];
const tileFill: any = { b: '#adb2e6', l: '#e0e1f6', p: '#f6dfdf', r: '#f2bdbd', u: '#b87aac' };
// links between genome positions. bend is the pull to the centre, or two control points in ring radii from the centre
const GREEN = '#35d435';
const PALE_GREEN = '#c6f2c6';
const links: any[] = [
  { from: ['8', 4], to: ['4', 138], color: GREEN, width: 1.4, bend: [-0.342, 0.139, -0.045, 0.349] },
  { from: ['17', 31], to: ['20', 33], color: GREEN, width: 1, bend: [0.108, -0.324, 0.29, -0.222] },
  { from: ['17', 41], to: ['20', 33], color: GREEN, width: 1, bend: [0.122, -0.324, 0.301, -0.222] },
  { from: ['17', 50], to: ['21', 16], color: GREEN, width: 1, bend: [0.135, -0.247, 0.378, -0.171] },
  { from: ['13', 107], to: ['17', 76], color: PALE_GREEN, width: 0.8, bend: 0.33 },
  { from: ['12', 68], to: ['7', 101], color: PALE_GREEN, width: 0.8, bend: [-0.212, -0.478, -0.286, 0.217] },
  { from: ['11', 44], to: ['5', 41], color: PALE_GREEN, width: 0.8, bend: [-0.391, -0.35, -0.124, 0.283] },
  { from: ['16', 30], to: ['16', 74], color: '#ee8f8f', width: 0.7, bend: 0.33 },
  { from: ['3', 142], to: ['3', 29], color: '#333', width: 0.6, bend: 0.33 },
  { from: ['8', 55], to: ['8', 47], color: '#333', width: 0.6, bend: 0.78 },
  { from: ['1', 195], to: ['1', 197], color: '#a8a0c8', width: 0.6, bend: 0.33 },
];
const BRAF_LOCUS = ['7', 140];

const CX = 174.2;
const CY = 202.2;
const LINK_R = 130;
const TOTAL = chromLengths.reduce((a, b) => a + b + GAP, 0);
const chromStart = chromLengths.map((_, i) => chromLengths.slice(0, i).reduce((a, b) => a + b + GAP, 0));
const chromAngle = (chrom: string, mb: number) => ((chromStart[chromNames.indexOf(chrom)] + mb) * 360) / TOTAL;
const polar = (r: number, deg: number) => {
  const a = (deg * Math.PI) / 180;
  return [CX + r * Math.cos(a), CY + r * Math.sin(a)];
};
const facing = (deg: number) => (deg > 0 && deg < 180 ? deg - 90 : deg + 90);

const bandSlices: any[] = chromLengths.flatMap((len, i) => {
  const out: any[] = [];
  let pos = 0;
  chromBands[i].forEach(([s, e, kind]: any) => {
    if (s > pos) out.push({ value: s - pos, fill: BASE_BAND });
    out.push({ value: e - s, fill: bandFill[kind] });
    pos = e;
  });
  if (len > pos) out.push({ value: len - pos, fill: BASE_BAND });
  out.push({ value: GAP, fill: 'none' });
  return out;
});
const chromSlices: any[] = chromLengths.flatMap((len) => [{ value: len, on: true }, { value: GAP, on: false }]);

const tileSlices: any[] = (() => {
  const sorted = tiles
    .map(([c, mb, key]) => ({ at: chromStart[chromNames.indexOf(c)] + mb, key }))
    .sort((a, b) => a.at - b.at);
  const out: any[] = [];
  let pos = 0;
  sorted.forEach((t) => {
    out.push({ value: t.at - pos, fill: 'none' });
    out.push({ value: 2.6, fill: tileFill[t.key] });
    pos = t.at + 2.6;
  });
  out.push({ value: TOTAL - pos, fill: 'none' });
  return out;
})();

const linkPath = (l: any) => {
  const a1 = chromAngle(l.from[0], l.from[1]);
  const a2 = chromAngle(l.to[0], l.to[1]);
  const [x1, y1] = polar(LINK_R, a1);
  const [x2, y2] = polar(LINK_R, a2);
  let c: number[];
  if (Array.isArray(l.bend)) {
    c = [CX + l.bend[0] * LINK_R, CY + l.bend[1] * LINK_R, CX + l.bend[2] * LINK_R, CY + l.bend[3] * LINK_R];
  } else {
    c = [...polar(LINK_R * l.bend, a1), ...polar(LINK_R * l.bend, a2)];
  }
  return `M${x1},${y1} C${c[0]},${c[1]} ${c[2]},${c[3]} ${x2},${y2}`;
};

const brafBox = (() => {
  const a = chromAngle(BRAF_LOCUS[0] as string, BRAF_LOCUS[1] as number);
  return [polar(149, a - 0.9), polar(149, a + 0.9), polar(92, a + 1.6), polar(92, a - 1.6)].map((p) => p.join(',')).join(' ');
})();

const scaleMarks: any[] = chromLengths.flatMap((len, i) => {
  const out: any[] = [];
  for (let mb = 0; mb <= len; mb += 10) out.push({ chrom: chromNames[i], mb, major: mb % 50 === 0 });
  return out;
});

function Circos() {
  return (
    <PieChart width={340} height={370} margin={{ top: 0, right: 0, bottom: 0, left: 0 }}>
      <Pie data={bandSlices} dataKey="value" cx={CX} cy={CY} innerRadius={132.5} outerRadius={137} startAngle={0} endAngle={-360} stroke="none" isAnimationActive={false}>
        {bandSlices.map((s, i) => <Cell key={i} fill={s.fill} stroke="none" />)}
      </Pie>
      <Pie data={chromSlices} dataKey="value" cx={CX} cy={CY} innerRadius={132.5} outerRadius={137} startAngle={0} endAngle={-360} isAnimationActive={false}>
        {chromSlices.map((s, i) => <Cell key={i} fill="none" stroke={s.on ? '#333' : 'none'} strokeWidth={0.6} />)}
      </Pie>
      <Pie data={chromSlices} dataKey="value" cx={CX} cy={CY} innerRadius={140.8} outerRadius={141.4} startAngle={0} endAngle={-360} stroke="none" isAnimationActive={false}>
        {chromSlices.map((s, i) => <Cell key={i} fill={s.on ? '#444' : 'none'} stroke="none" />)}
      </Pie>
      <Pie data={tileSlices} dataKey="value" cx={CX} cy={CY} innerRadius={118} outerRadius={126} startAngle={0} endAngle={-360} stroke="none" isAnimationActive={false}>
        {tileSlices.map((s, i) => <Cell key={i} fill={s.fill} stroke="none" />)}
      </Pie>
      <g fill="none">
        {links.map((l, i) => <path key={i} d={linkPath(l)} stroke={l.color} strokeWidth={l.width} />)}
        <polygon points={brafBox} stroke="#ee9a8c" strokeWidth={0.7} />
      </g>
      <g stroke="#444" strokeWidth={0.3}>
        {scaleMarks.map((m, i) => {
          const deg = chromAngle(m.chrom, m.mb);
          const [x1, y1] = polar(141.4, deg);
          const [x2, y2] = polar(m.major ? 143 : 142.2, deg);
          return <line key={i} x1={x1} y1={y1} x2={x2} y2={y2} />;
        })}
      </g>
      <g fontFamily={FONT} fill="#333" textAnchor="middle">
        {scaleMarks.filter((m) => m.major).map((m, i) => {
          const deg = chromAngle(m.chrom, m.mb);
          const [x, y] = polar(145.2, deg);
          return <text key={i} x={x} y={y} fontSize={3} dominantBaseline="middle" transform={`rotate(${facing(deg)} ${x} ${y})`}>{m.mb}Mb</text>;
        })}
        {chromNames.map((c, i) => {
          const deg = chromAngle(c, chromLengths[i] / 2);
          const [x, y] = polar(151, deg);
          return <text key={c} x={x} y={y} fontSize={8} dominantBaseline="middle" fill="#222" transform={`rotate(${facing(deg)} ${x} ${y})`}>{c}</text>;
        })}
      </g>
    </PieChart>
  );
}

// ---------- page ----------
const Pos = ({ left, top, children }: any) => <div style={{ position: 'absolute', left, top }}>{children}</div>;

const Note = ({ x, y, size = 9, bold = false, color = '#333', anchor = 'start', children }: any) => (
  <text x={x} y={y} fontSize={size} fontWeight={bold ? 'bold' : 'normal'} fill={color} textAnchor={anchor} fontFamily={FONT}>{children}</text>
);

export default function App() {
  return (
    <div style={{ position: 'absolute', left: 0, top: 0, width: 858, height: 870, background: '#fff', overflow: 'hidden' }}>
      <Pos left={41.7} top={45}><TimepointStrip /></Pos>
      <Pos left={41.7} top={81}><EventGrid /></Pos>
      <Pos left={600} top={10}>
        <CcfPlot margin={{ top: 11.7, right: 11.7, bottom: 0, left: 0 }} xDomain={[-0.084, 1.573]} yDomain={[-0.076, 1.568]} series={seriesB} drivers={driversB} />
      </Pos>
      <Pos left={600} top={253}>
        <CcfPlot margin={{ top: 11.3, right: 12.7, bottom: 0, left: 0 }} xDomain={[-0.081, 1.531]} yDomain={[-0.077, 1.583]} series={seriesC} drivers={driversC} />
      </Pos>
      <Pos left={35.7} top={595.3}><BrafHeat /></Pos>
      <Pos left={159.7} top={596}><HeatLegend /></Pos>
      <Pos left={240} top={500}><Circos /></Pos>
      <svg width={858} height={870} style={{ position: 'absolute', left: 0, top: 0, pointerEvents: 'none' }}>
        <Note x={7} y={20} size={20} color="#111">A</Note>
        <Note x={554} y={18} size={20} color="#111">B</Note>
        <Note x={554} y={256} size={20} color="#111">C</Note>
        <Note x={7} y={524} size={20} color="#111">D</Note>
        <Note x={248} y={524} size={20} color="#111">E</Note>

        <Note x={395} y={26.5} bold color="#111">Event</Note>
        <rect x={396.5} y={32} width={12.5} height={12.5} fill="#6e6e6e" stroke="#888" />
        <rect x={396.5} y={44.5} width={12.5} height={13} fill="#000" stroke="#888" />
        <rect x={396.5} y={57.5} width={12.5} height={13} fill="#fff" stroke="#888" />
        <Note x={411.5} y={40}>shared</Note>
        <Note x={411.5} y={53}>unshared</Note>
        <Note x={411.5} y={66}>no</Note>
        <Note x={455} y={25.5} bold color="#111">Timepoint</Note>
        <rect x={455} y={30.7} width={13} height={13} fill="#00008b" stroke="#999" />
        <rect x={455} y={43.7} width={13} height={13} fill="#cc0000" stroke="#999" />
        <Note x={471} y={38}>T1</Note>
        <Note x={471} y={51}>T2</Note>

        <line x1={410.5} y1={85} x2={410.5} y2={199.5} stroke="#444" />
        <line x1={410.5} y1={218} x2={410.5} y2={258} stroke="#444" />
        <line x1={410.5} y1={264} x2={410.5} y2={453} stroke="#444" />
        <Note x={422.7} y={141} size={11}>Copy</Note>
        <Note x={422.7} y={152} size={11}>number</Note>
        <Note x={422.7} y={239} size={11}>Translocations</Note>
        <Note x={422.7} y={368} size={11}>Driver</Note>
        <Note x={422.7} y={379} size={11}>mutations</Note>

        <Note x={66.5} y={591.5} size={16} color="#222" anchor="middle">BRAF</Note>
        <Note x={251.5} y={776} size={12} color="#222">BRAF</Note>
        <Note x={405.7} y={706.7} size={28} color="#111" anchor="middle">P4</Note>
      </svg>
    </div>
  );
}
